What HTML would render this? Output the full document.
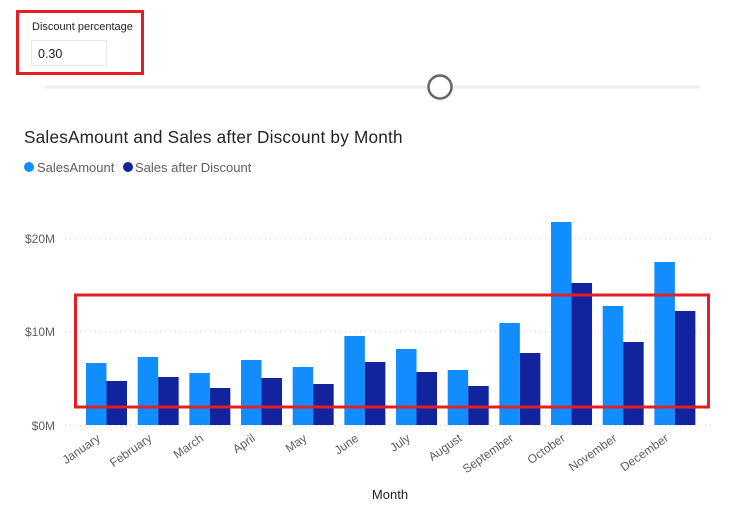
<!DOCTYPE html>
<html><head><meta charset="utf-8"><style>
html,body{margin:0;padding:0;background:#fff;width:730px;height:515px;overflow:hidden}
svg text{font-family:"Liberation Sans",sans-serif}
</style></head><body>
<svg width="730" height="515" viewBox="0 0 730 515" xmlns="http://www.w3.org/2000/svg">
<rect x="17.5" y="11.5" width="125" height="62" fill="none" stroke="#e31e24" stroke-width="3"/>
<text x="32" y="30" font-size="11" fill="#252423">Discount percentage</text>
<rect x="31.5" y="40.5" width="75" height="25" fill="#fff" stroke="#eaeaea" stroke-width="1"/>
<text x="38" y="58" font-size="12.5" fill="#252423">0.30</text>
<line x1="45" y1="87" x2="700" y2="87" stroke="#eeeeee" stroke-width="3"/>
<circle cx="440" cy="87" r="11.5" fill="#fff" stroke="#666" stroke-width="2.5"/>
<text x="24" y="143" font-size="17.2" fill="#252423" letter-spacing="0.2">SalesAmount and Sales after Discount by Month</text>
<circle cx="29" cy="167" r="5" fill="#118dff"/>
<text x="37" y="172" font-size="13" fill="#605e5c">SalesAmount</text>
<circle cx="128" cy="167" r="5" fill="#12239e"/>
<text x="135" y="172" font-size="13" fill="#605e5c">Sales after Discount</text>
<g stroke="#d6d6d6" stroke-width="1" stroke-dasharray="1,4">
<line x1="65" y1="238.5" x2="715" y2="238.5"/>
<line x1="65" y1="331.5" x2="715" y2="331.5"/>
<line x1="65" y1="425.5" x2="715" y2="425.5"/>
</g>
<g font-size="12" fill="#605e5c" text-anchor="end">
<text x="55" y="243">$20M</text>
<text x="55" y="336">$10M</text>
<text x="55" y="430">$0M</text>
</g>
<g id="bars"></g>
<g id="labels" font-size="12" fill="#605e5c" text-anchor="end"></g>
<text x="390" y="499" font-size="13" fill="#252423" text-anchor="middle">Month</text>
<rect x="75.5" y="295" width="633" height="112" fill="none" stroke="#e31e24" stroke-width="3"/>
</svg>
<script>
var L=[363,357,373,360,367,336,349,370,323,222,306,262];
var D=[381,377,388,378,384,362,372,386,353,283,342,311];
var M=["January","February","March","April","May","June","July","August","September","October","November","December"];
var ns="http://www.w3.org/2000/svg",b=document.getElementById("bars"),lb=document.getElementById("labels");
for(var i=0;i<12;i++){var x=86+i*51.67;
var r=document.createElementNS(ns,"rect");r.setAttribute("x",x);r.setAttribute("y",L[i]);r.setAttribute("width",20.5);r.setAttribute("height",425-L[i]);r.setAttribute("fill","#118dff");b.appendChild(r);
r=document.createElementNS(ns,"rect");r.setAttribute("x",x+20.5);r.setAttribute("y",D[i]);r.setAttribute("width",20.5);r.setAttribute("height",425-D[i]);r.setAttribute("fill","#12239e");b.appendChild(r);
var t=document.createElementNS(ns,"text");var tx=x+15,ty=440;t.setAttribute("x",tx);t.setAttribute("y",ty);t.setAttribute("transform","rotate(-35 "+tx+" "+ty+")");t.textContent=M[i];lb.appendChild(t);}
</script>
</body></html>
